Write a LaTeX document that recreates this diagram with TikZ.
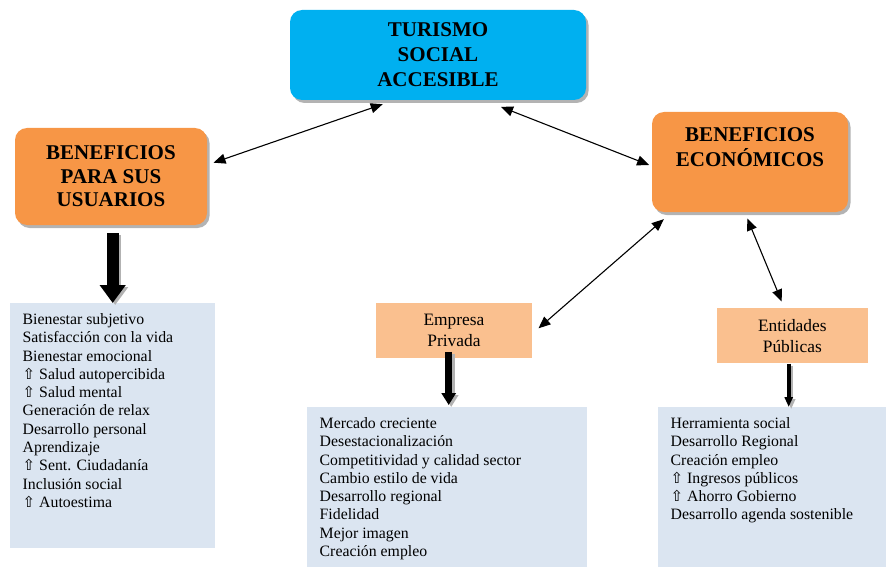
\documentclass[tikz,border=0pt]{standalone}
\usepackage{fontspec}
\setmainfont{Liberation Serif}
\newfontfamily\arrowfont{DejaVu Sans}
\usepackage{tikz}
\usetikzlibrary{arrows.meta, shadows}
\usepackage{xcolor}

\definecolor{tsablue}{RGB}{0,176,240}
\definecolor{benorange}{RGB}{247,150,70}
\definecolor{actpeach}{RGB}{250,192,143}
\definecolor{listblue}{RGB}{219,229,241}

\newcommand{\upmark}{{\arrowfont\fontsize{15pt}{15pt}\selectfont ⇧}}
\newcommand{\listlines}[3]{\parbox[c][#1][t]{#2}{\raggedright\vspace*{10.3pt}#3}}

\begin{document}
\begin{tikzpicture}[x=1pt, y=-1pt,
    roundbox/.style={rounded corners=12pt, inner sep=0pt, align=center,
      font=\bfseries\fontsize{21pt}{25pt}\selectfont,
      drop shadow={shadow xshift=2.5pt, shadow yshift=-3pt, fill=black!50, opacity=0.6}},
    titlebox/.style={roundbox, fill=tsablue, minimum width=296pt, minimum height=90pt},
    benefbox/.style={roundbox, fill=benorange},
    actorbox/.style={fill=actpeach, inner sep=0pt, align=center,
      font=\fontsize{17.4pt}{20.5pt}\selectfont},
    listbox/.style={fill=listblue, anchor=north west, inner xsep=12.5pt, inner ysep=0pt,
      font=\fontsize{15.8pt}{18.3pt}\selectfont},
    link/.style={line width=1.1pt, {Triangle[length=12pt,width=10pt]}-{Triangle[length=12pt,width=10pt]}},
    fat/.style args={#1/#2/#3}{line width=#1, -{Triangle[length=#2,width=#3]}},
    fatshadow/.style={draw=black!30, transform canvas={xshift=2.5pt, yshift=-2pt}}]
    \useasboundingbox (0,0) rectangle (886,567);

    % Heading boxes
    \node[titlebox] (tsa) at (438,55) {TURISMO\\SOCIAL\\ACCESIBLE};
    \node[benefbox, minimum width=192pt, minimum height=97pt,
      font=\bfseries\fontsize{21pt}{23.5pt}\selectfont] (usr) at (111,176.5) {BENEFICIOS\\PARA SUS\\USUARIOS};
    \node[benefbox] (eco) at (750,162) {\parbox[c][100pt][t]{196pt}{\centering\vspace*{15.8pt}BENEFICIOS\\ECONÓMICOS}};

    % Actor boxes
    \node[actorbox, minimum width=156pt, minimum height=55.6pt] (emp) at (454,330.5) {Empresa\\Privada};
    \node[actorbox, minimum width=151pt, minimum height=55pt] (ent) at (792.3,335.8) {Entidades\\Públicas};

    % Lists
    \node[listbox] (lusr) at (10,303) {\listlines{245pt}{180pt}{Bienestar subjetivo\\
      Satisfacción con la vida\\
      Bienestar emocional\\
      \upmark{} Salud autopercibida\\
      \upmark{} Salud mental\\
      Generación de relax\\
      Desarrollo personal\\
      Aprendizaje\\
      \upmark{} Sent. Ciudadanía\\
      Inclusión social\\
      \upmark{} Autoestima}};
    \node[listbox] (lemp) at (307,407) {\listlines{160pt}{255pt}{Mercado creciente\\
      Desestacionalización\\
      Competitividad y calidad sector\\
      Cambio estilo de vida\\
      Desarrollo regional\\
      Fidelidad\\
      Mejor imagen\\
      Creación empleo}};
    \node[listbox] (lent) at (658,407) {\listlines{160pt}{203pt}{Herramienta social\\
      Desarrollo Regional\\
      Creación empleo\\
      \upmark{} Ingresos públicos\\
      \upmark{} Ahorro Gobierno\\
      Desarrollo agenda sostenible}};

    % Links between boxes
    \draw[link] ([xshift=6.3pt, yshift=13.8pt]usr.east) -- ([xshift=-55.3pt, yshift=-4pt]tsa.south);
    \draw[link] ([xshift=63pt, yshift=-6.7pt]tsa.south) -- ([xshift=-2.7pt, yshift=-3pt]eco.west);
    \draw[link] ([xshift=12pt, yshift=-7pt]eco.south west) -- ([xshift=6.3pt, yshift=2.2pt]emp.east);
    \draw[link] ([xshift=-2.7pt, yshift=-6.3pt]eco.south) -- ([xshift=-10.6pt, yshift=6.6pt]ent.north);

    % Down arrows to the lists
    \draw[fat=12pt/18pt/25pt, fatshadow, shorten <=8pt] (usr.south -| lusr.north) -- (lusr.north);
    \draw[fat=12pt/18pt/25pt, shorten <=8pt] (usr.south -| lusr.north) -- (lusr.north);
    \draw[fat=7pt/12pt/14pt, fatshadow, shorten >=2pt] ([xshift=-5.3pt, yshift=6.6pt]emp.south) -- ([xshift=-5.3pt]emp.south |- lemp.north);
    \draw[fat=7pt/12pt/14pt, shorten >=2pt] ([xshift=-5.3pt, yshift=6.6pt]emp.south) -- ([xshift=-5.3pt]emp.south |- lemp.north);
    \draw[fat=4pt/10pt/8pt, fatshadow] ([xshift=-3.6pt]ent.south) -- ([xshift=-3.6pt]ent.south |- lent.north);
    \draw[fat=4pt/10pt/8pt] ([xshift=-3.6pt]ent.south) -- ([xshift=-3.6pt]ent.south |- lent.north);
  \end{tikzpicture}
\end{document}
